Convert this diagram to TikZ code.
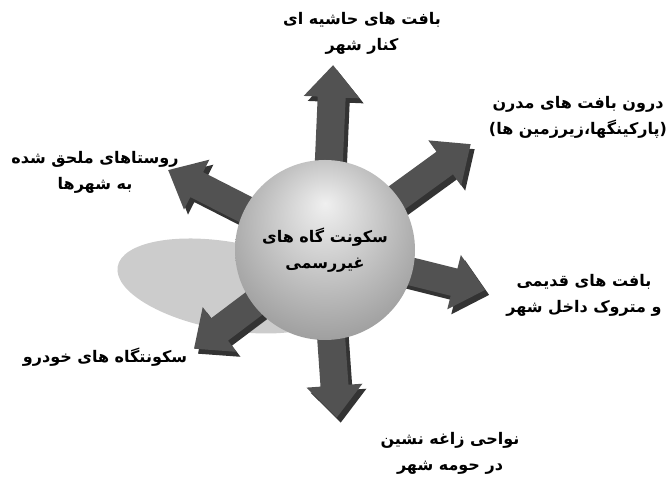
\documentclass[tikz,border=0pt]{standalone}
\usepackage{fontspec}
\newfontfamily\arabicfont[Script=Arabic]{DejaVu Sans}
\TeXXeTstate=1
\pgfdeclareradialshading{spherelight}{\pgfpoint{0bp}{13bp}}{color(0bp)=(black!6); color(18bp)=(black!25); color(50bp)=(black!58)}
\tikzset{
  lbl/.style={align=center, font=\arabicfont\bfseries\fontsize{16}{26}\selectfont},
  arrface/.style={fill=black!68},
  arrside/.style={fill=black!80},
}
\begin{document}
\begin{tikzpicture}[x=1pt,y=1pt]
\useasboundingbox (0,0) rectangle (669,478);
% shadow under the ball
\fill[gray!40, rotate around={-10:(228,192)}] (228,192) ellipse (112 and 44);
% block arrows
\foreach \ang/\len in {87.5/185, 36/180, -14/165, -86/168, 217/164, 153/176}{
  \begin{scope}[shift={(325,228)}]
    \fill[arrside, shift={(4,-5)}, rotate=\ang] (0,-14) -- (\len-32,-14) -- (\len-32,-28) -- (\len,0) -- (\len-32,28) -- (\len-32,14) -- (0,14) -- cycle;
    \fill[arrface, rotate=\ang] (0,-14) -- (\len-32,-14) -- (\len-32,-28) -- (\len,0) -- (\len-32,28) -- (\len-32,14) -- (0,14) -- cycle;
  \end{scope}
}
% the ball
\node[circle, minimum size=180pt, inner sep=0pt, shading=spherelight] (core) at (325,228) {};
\node[lbl] (coretxt) at (core.center) {\beginR سکونت گاه های\endR\\\beginR غیررسمی\endR};
% labels
\node[lbl] (edge) at (362,445) {\beginR بافت های حاشیه ای\endR\\\beginR کنار شهر\endR};
\node[lbl] (modern) at (578,361) {\beginR درون بافت های مدرن\endR\\\beginR (پارکینگها،زیرزمین ها)\endR};
\node[lbl] (old) at (584,183) {\beginR بافت های قدیمی\endR\\\beginR و متروک داخل شهر\endR};
\node[lbl] (slum) at (450,25) {\beginR نواحی زاغه نشین\endR\\\beginR در حومه شهر\endR};
\node[lbl] (selfbuilt) at (105,121) {\beginR سکونتگاه های خودرو\endR};
\node[lbl] (village) at (95,306) {\beginR روستاهای ملحق شده\endR\\\beginR به شهرها\endR};
\end{tikzpicture}
\end{document}
